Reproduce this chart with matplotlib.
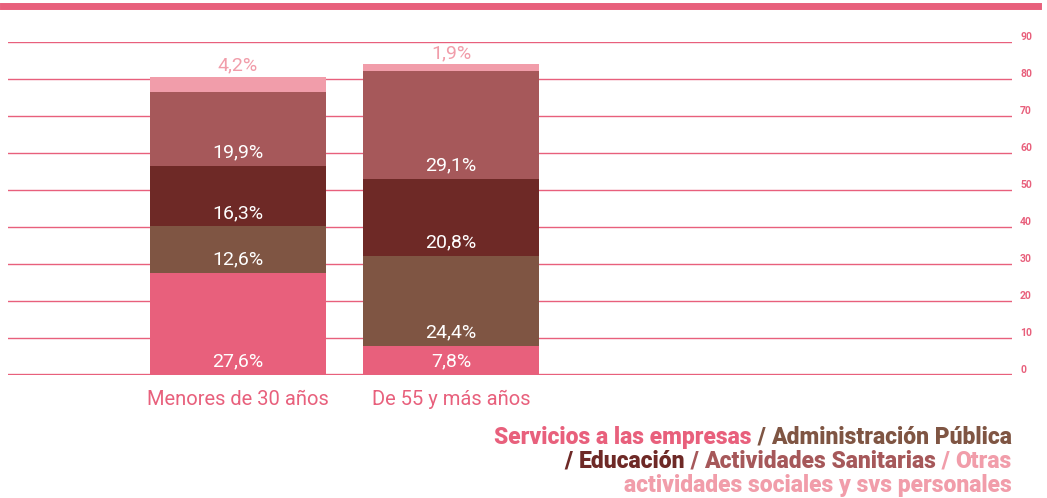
import numpy as np
import matplotlib.pyplot as plt

categories = ['Menores de 30 años', 'De 55 y más años']
series_names = ['Servicios a las empresas', 'Administración Pública', 'Educación',
                'Actividades Sanitarias', 'Otras actividades sociales y svs personales']
values = [
    [27.6, 7.8],
    [12.6, 24.4],
    [16.3, 20.8],
    [19.9, 29.1],
    [4.2, 1.9],
]
colors = ['#E8607C', '#7F5543', '#6E2926', '#A6585A', '#F19DAA']
yticks = list(range(0, 100, 10))

plt.rcParams['font.family'] = ['Roboto', 'DejaVu Sans']

fig = plt.figure(figsize=(10.47, 4.98), dpi=100)
ax = fig.add_axes([8 / 1047, 123 / 498, 1004 / 1047, 333 / 498])

x = np.arange(len(categories))
bottom = np.zeros(len(categories))
for i, (vals, c) in enumerate(zip(values, colors)):
    vals = np.array(vals)
    ax.bar(x, vals, 0.826, bottom=bottom, color=c, zorder=3)
    for xi, b, v in zip(x, bottom, vals):
        label = f'{v:.1f}%'.replace('.', ',')
        if i == len(values) - 1:
            ax.text(xi, b + v + 0.6, label, ha='center', va='bottom',
                    color=c, fontsize=14, zorder=4)
        else:
            ax.text(xi, b + 3.6, label, ha='center', va='center',
                    color='white', fontsize=14, zorder=4)
    bottom += vals

ax.set_xlim(-1.08, 3.634)
ax.set_ylim(0, 90)
for t in yticks:
    ax.axhline(t, color='#E8607C', lw=2.4 if t == 0 else 1.0, zorder=2)
    ax.text(1.008, t, str(t), transform=ax.get_yaxis_transform(), ha='left',
            va='bottom', fontsize=7.5, color='#E8607C', fontweight='bold')

for s in ax.spines.values():
    s.set_visible(False)
ax.set_xticks(x)
ax.set_xticklabels(categories, fontsize=14.5, color='#E8607C')
ax.tick_params(axis='x', length=0, pad=11)
ax.set_yticks([])

# thick line across the top
fig.add_artist(plt.Line2D([3 / 1047, 1038 / 1047], [1 - 6 / 498, 1 - 6 / 498],
                          color='#E8607C', lw=5))

# legend as coloured text
lines = [
    [(series_names[0], colors[0]), (' / ', colors[1]), (series_names[1], colors[1])],
    [('/ ', colors[2]), (series_names[2], colors[2]), (' / ', colors[3]),
     (series_names[3], colors[3]), (' / ', colors[4]), ('Otras', colors[4])],
    [('actividades sociales y svs personales', colors[4])],
]
fig.canvas.draw()
renderer = fig.canvas.get_renderer()
right = 1012
for li, parts in enumerate(lines):
    ypix = 498 - (437 + li * 24)
    xpos = right
    for txt, c in reversed(parts):
        t = fig.text(xpos / 1047, ypix / 498, txt, ha='right', va='center',
                     fontsize=16.5, fontweight='black', color=c)
        bb = t.get_window_extent(renderer)
        xpos -= bb.width

fig.savefig('out.png', dpi=100)
